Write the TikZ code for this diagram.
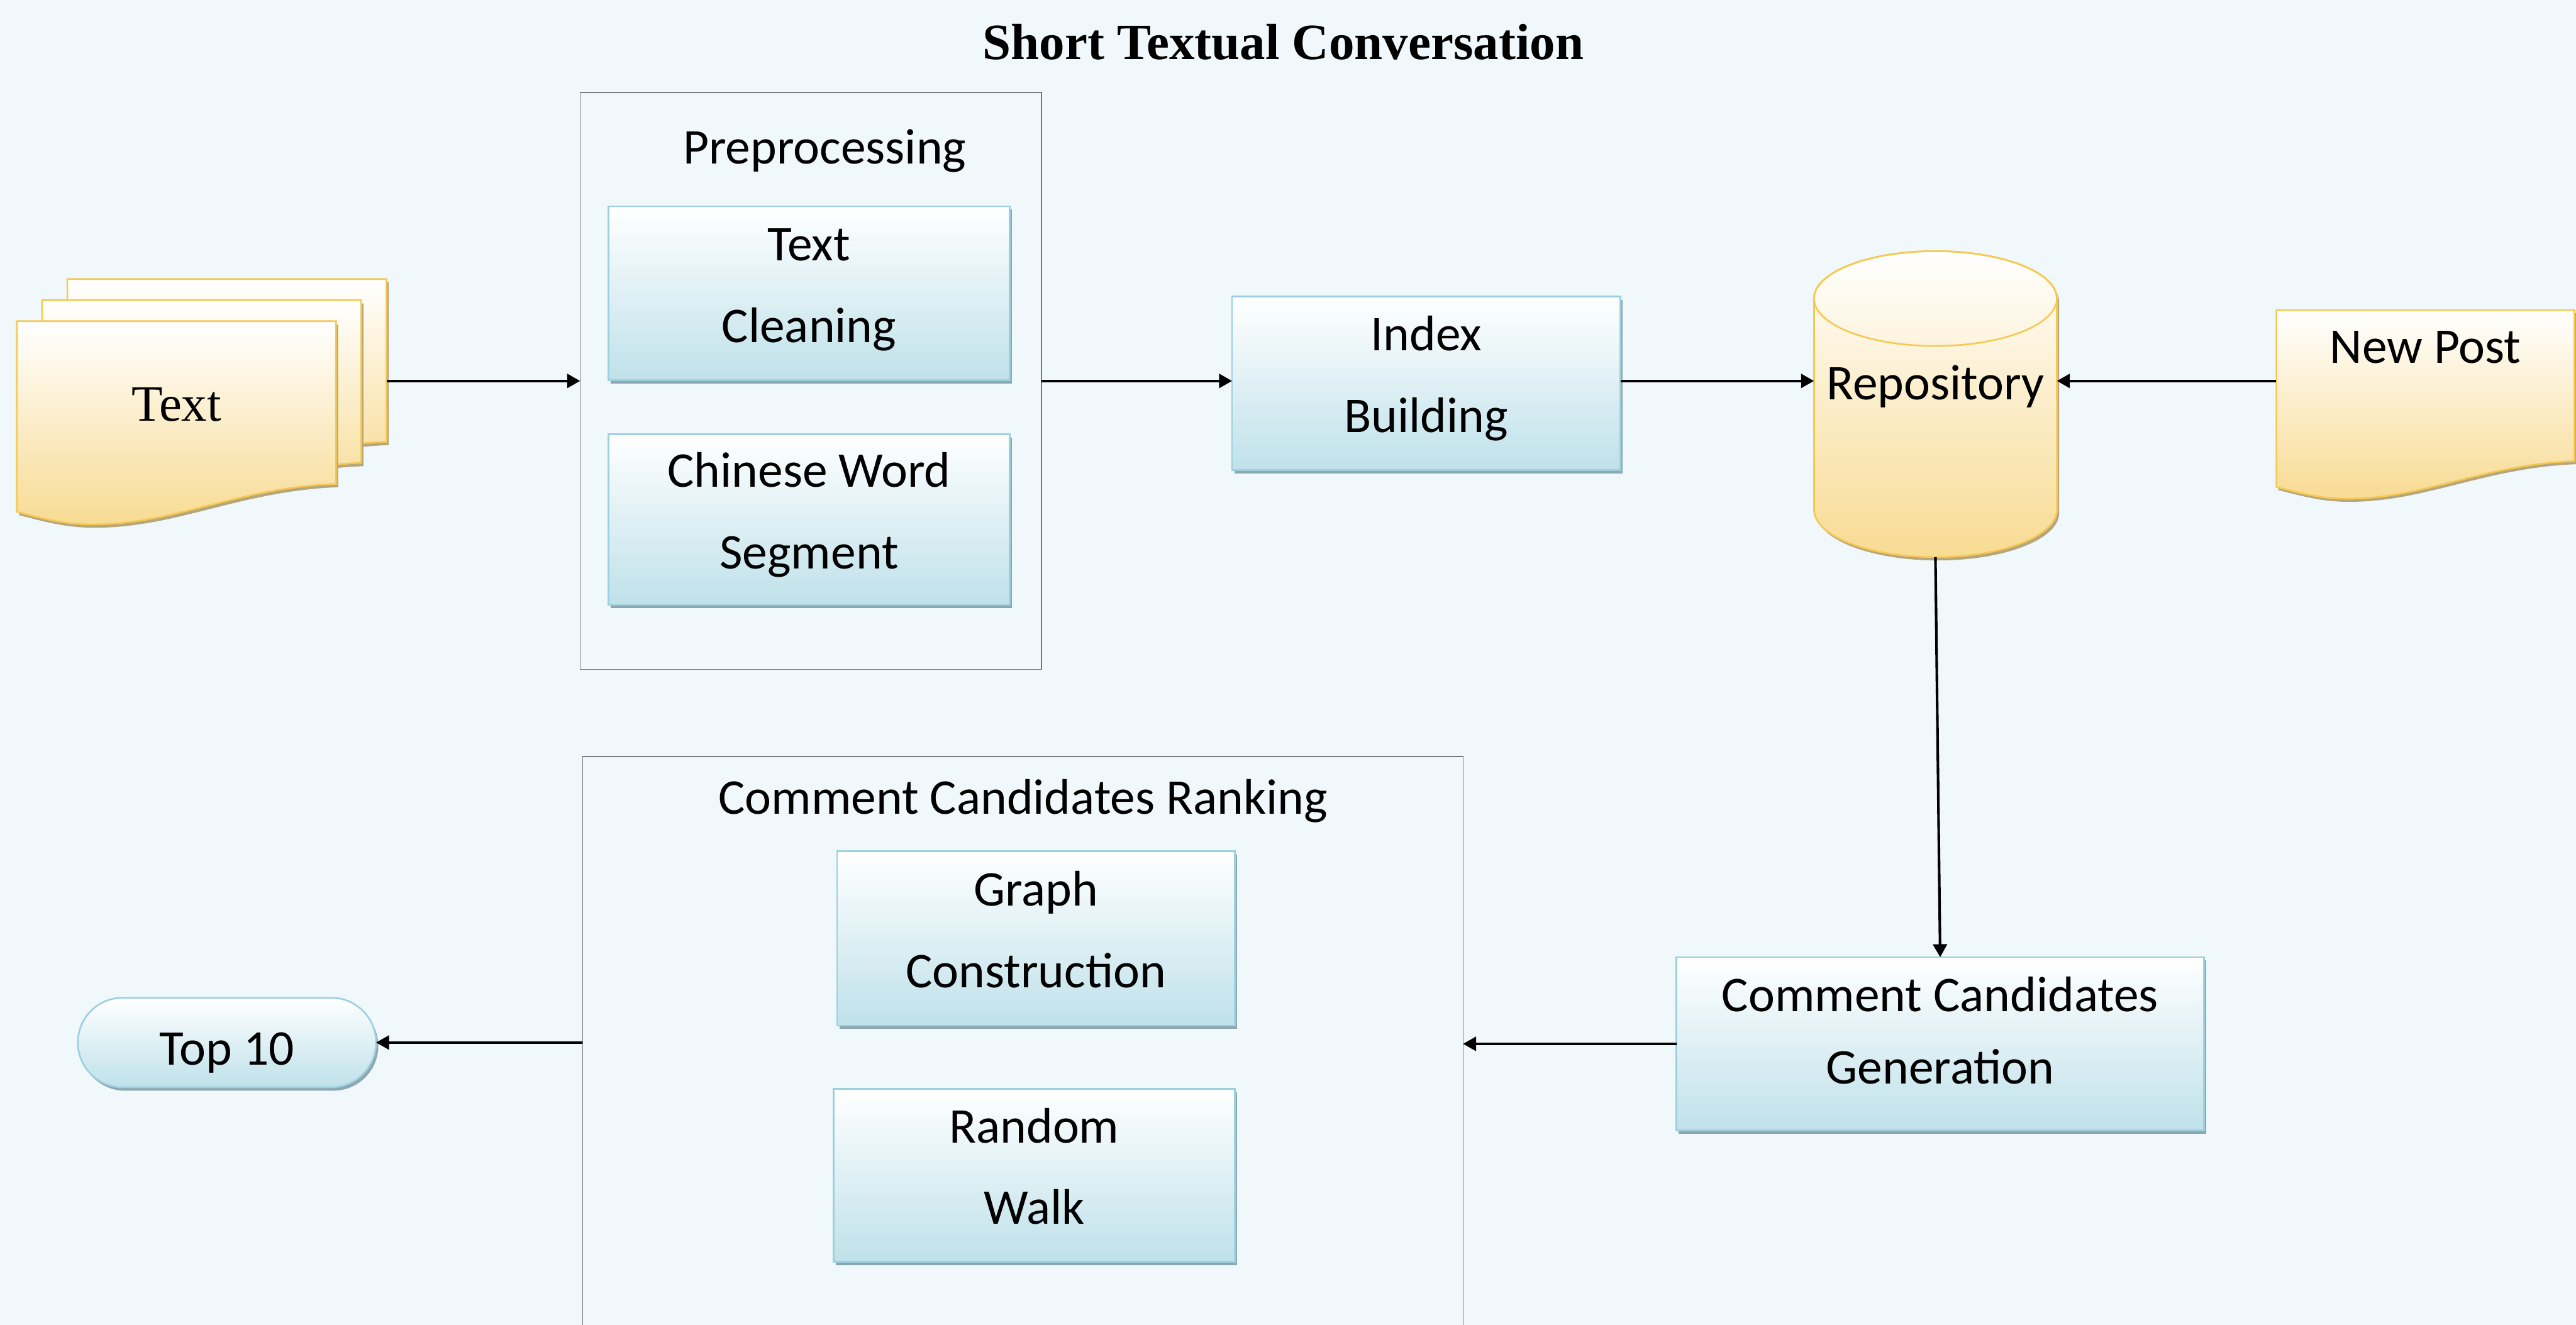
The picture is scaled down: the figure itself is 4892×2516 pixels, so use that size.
\documentclass[tikz,border=0pt]{standalone}
\usepackage{fontspec}
\setmainfont{Carlito}
\newfontfamily\serifface{Liberation Serif}
\usetikzlibrary{arrows.meta,shadows}

\definecolor{bg}{HTML}{F0F8FB}
\definecolor{boxblue}{HTML}{BFE1EA}
\definecolor{boxedge}{HTML}{9DD0DF}
\definecolor{boxshadow}{HTML}{8CA7B0}
\definecolor{docyellow}{HTML}{F8DB93}
\definecolor{docedge}{HTML}{F7C952}
\definecolor{docshadow}{HTML}{B5A67C}
\definecolor{groupedge}{HTML}{6F7A7F}

% outline of a paper sheet with a wavy lower edge (origin = top left corner)
\newcommand\sheetpath{(0,0) -- (606,0) -- (606,309)
  .. controls (420,316) and (300,386) .. (144,386)
  .. controls (90,386) and (50,375) .. (0,362) -- cycle}

% #1,#2: top left corner, #3: extra transformation
\newcommand\sheet[3]{%
  \begin{scope}[shift={(#1,#2)},#3]
    \begin{scope}[xshift=1.2pt,yshift=-1.8pt]
      \fill[docshadow] \sheetpath;
    \end{scope}
    \shade[top color=white,bottom color=docyellow,draw=docedge,line width=0.9pt] \sheetpath;
  \end{scope}}

\begin{document}
\begin{tikzpicture}[x=0.01cm,y=-0.01cm,
  every node/.style={inner sep=0pt,outer sep=0pt},
  stage/.style={rectangle,draw=boxedge,line width=0.9pt,
    top color=white,bottom color=boxblue,
    general shadow={fill=boxshadow,shadow xshift=1.2pt,shadow yshift=-1.8pt},
    align=center,font=\fontsize{27}{44}\selectfont,
    text height=52.9pt,text depth=0pt},
  group/.style={rectangle,draw=groupedge,line width=0.6pt},
  lbl/.style={font=\fontsize{27}{33}\selectfont,anchor=base},
  arr/.style={-{Triangle[length=7pt,width=7.5pt]},line width=1.4pt}]

\useasboundingbox (0,0) rectangle (4892,2516);
\clip (0,0) rectangle (4892,2516);
\fill[bg] (0,0) rectangle (4892,2516);

% title
\node[font=\serifface\bfseries\fontsize{27.5}{33}\selectfont,anchor=base] (title) at (2437,113) {Short Textual Conversation};

% stack of input documents
\sheet{128}{530}{}
\sheet{80}{570}{}
\sheet{32}{610}{}
\node[minimum width=6.06cm,minimum height=3.62cm] (back) at (431,711) {};
\node[font=\serifface\fontsize{27.5}{33}\selectfont,minimum width=6.06cm,minimum height=3.62cm,
  text height=5.1pt,text depth=0pt] (txt) at (335,791) {Text};

% preprocessing group
\node[group,minimum width=8.76cm,minimum height=10.95cm] (pre) at (1540,723.5) {};
\node[lbl] (pretitle) at (1566,311) {Preprocessing};
\node[stage,minimum width=7.61cm,minimum height=3.30cm] (tc) at (1536.5,557) {Text\\Cleaning};
\node[stage,minimum width=7.61cm,minimum height=3.24cm] (cws) at (1536.5,987) {Chinese Word\\Segment};

% index building
\node[stage,minimum width=7.37cm,minimum height=3.30cm] (idx) at (2708.5,728) {Index\\Building};

% repository cylinder
\begin{scope}[xshift=1.2pt,yshift=-1.8pt]
  \fill[docshadow] (3445,567) -- (3445,968) arc[start angle=180,end angle=360,x radius=2.305cm,y radius=0.9cm]
    -- (3906,567) arc[start angle=0,end angle=180,x radius=2.305cm,y radius=0.9cm] -- cycle;
\end{scope}
\shade[top color=white,bottom color=docyellow,draw=docedge,line width=0.9pt]
  (3445,567) -- (3445,968) arc[start angle=180,end angle=360,x radius=2.305cm,y radius=0.9cm]
  -- (3906,567) arc[start angle=0,end angle=180,x radius=2.305cm,y radius=0.9cm] -- cycle;
\draw[docedge,line width=0.9pt] (3675.5,567) ellipse[x radius=2.305cm,y radius=0.9cm];
\node[font=\fontsize{27}{33}\selectfont,minimum width=4.61cm,minimum height=5.81cm,
  text height=0pt,text depth=4.8pt] (repo) at (3675.5,767.5) {Repository};

% new post document
\sheet{4323}{589}{xscale=0.934,yscale=0.928}
\node[font=\fontsize{27}{33}\selectfont,minimum width=5.66cm,minimum height=3.36cm,
  text height=0pt,text depth=38.1pt] (post) at (4606,757) {New Post};

% candidate generation
\node[stage,font=\fontsize{27}{39}\selectfont,text height=43pt,minimum width=10.01cm,minimum height=3.29cm] (gen) at (3684.5,1982.5) {Comment Candidates\\Generation};

% ranking group
\node[group,minimum width=16.71cm,minimum height=11.63cm] (rank) at (1942.5,2018.5) {};
\node[lbl] (ranktitle) at (1943,1546) {Comment Candidates Ranking};
\node[stage,minimum width=7.55cm,minimum height=3.31cm] (gc) at (1967.5,1782.5) {Graph\\Construction};
\node[stage,minimum width=7.62cm,minimum height=3.28cm] (rw) at (1964,2232) {Random\\Walk};

% output
\node[rectangle,rounded corners=0.85cm,draw=boxedge,line width=0.9pt,top color=white,bottom color=boxblue,
  general shadow={fill=boxshadow,shadow xshift=1.2pt,shadow yshift=-1.8pt},
  minimum width=5.66cm,minimum height=1.70cm,font=\fontsize{27}{33}\selectfont,
  text height=23.9pt,text depth=0pt] (top) at (431,1980) {Top 10};

% connectors
\draw[arr] (back.east |- pre.west) -- (pre.west);
\draw[arr] (pre.east) -- (idx.west |- pre.east);
\draw[arr] (idx.east |- pre.east) -- (repo.west |- pre.east);
\draw[arr] (post.west |- pre.east) -- (repo.east |- pre.east);
\draw[arr] (repo.south) -- (gen.north);
\draw[arr] (gen.west) -- (rank.east |- gen.west);
\draw[arr] (rank.west |- top.east) -- (top.east);
\end{tikzpicture}
\end{document}
